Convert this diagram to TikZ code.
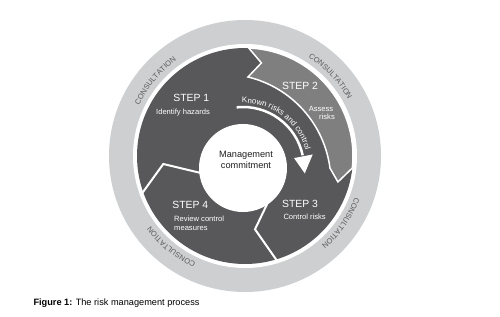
\documentclass[tikz,border=0pt]{standalone}
\usepackage{fontspec}
\setmainfont{Liberation Sans}
\usetikzlibrary{calc,decorations.text}
\definecolor{darkseg}{HTML}{58585A}
\definecolor{lightseg}{HTML}{7F7F7F}
\definecolor{ringgray}{HTML}{CDCFD1}
\definecolor{constext}{HTML}{5A5A5A}
\newcommand\consfont{\fontsize{7.5}{9}\selectfont}
\newcommand\knownfont{\fontsize{8}{9}\selectfont}
\begin{document}
\begin{tikzpicture}[x=1pt,y=1pt,
  steptitle/.style={text=white,font=\fontsize{10.4}{12}\selectfont,inner sep=0pt},
  stepdesc/.style={text=white,font=\fontsize{7.6}{9}\selectfont,inner sep=0pt},
  sepline/.style={white,line width=2pt,line join=miter},
  constextstyle/.style={decorate,decoration={text along path,text={|\consfont|CONSULTATION},text align=center,text color=constext}}]
\fill[white] (0,0) rectangle (500,316);
\useasboundingbox (0,0) rectangle (500,316);
\coordinate (O) at (245,160);
\coordinate (W) at (243,148);
\coordinate (I) at (222.7,133.8);
% ring
\fill[ringgray] (O) circle[radius=136pt];
\fill[white] (O) circle[radius=112pt];
\fill[darkseg] (O) circle[radius=108pt];
% step 2 band
\filldraw[fill=lightseg,draw=white,line width=1.5pt,line join=miter]
  ($(O)+(88:108)$) arc[start angle=88,end angle=-6.4,radius=108pt]
  -- ($(O)+(-15.6:96.5)$) -- ($(I)+(7.5:108.2)$)
  arc[start angle=7.5,end angle=76.5,radius=108.2pt]
  -- ($(O)+(80:94.5)$) -- cycle;
% separators
\draw[sepline] ($(O)+(-72.6:112)$) -- (255,86.7) -- (270,118);
\draw[sepline] ($(O)+(200.8:112)$) -- (163.3,152) -- (205,142);
% centre circle
\fill[white] (W) circle[radius=44pt];
% known risks arrow
\draw[white,line width=2.5pt] ($(W)+(96:61)$) arc[start angle=96,end angle=12,radius=61pt];
\fill[white] ($(W)+(11:52)$) -- ($(W)+(11:71)$) -- ($(W)+(-5:62)$) -- cycle;
\path[decorate,decoration={text along path,text={|\knownfont|Known risks and control},text align=center,text color=white}]
  ($(W)+(100:65)$) arc[start angle=100,end angle=7,radius=65pt];
% consultation texts
\path[constextstyle] ($(O)+(180:117.5)$) arc[start angle=180,end angle=100,radius=117.5pt];
\path[constextstyle] ($(O)+(83:117.5)$) arc[start angle=83,end angle=3,radius=117.5pt];
\path[constextstyle] ($(O)+(5:117.5)$) arc[start angle=5,end angle=-75,radius=117.5pt];
\path[constextstyle] ($(O)+(-89:117.5)$) arc[start angle=-89,end angle=-169,radius=117.5pt];
% step texts
\node[steptitle,anchor=base] (s1) at (191.3,214.3) {STEP 1};
\node[stepdesc,anchor=base] (d1) at (183,201) {Identify hazards};
\node[steptitle,anchor=base] (s2) at (300,226) {STEP 2};
\node[stepdesc,anchor=base] (d2a) at (321,204.3) {Assess};
\node[stepdesc,anchor=base] (d2b) at (327,196) {risks};
\node[steptitle,anchor=base] (s3) at (300,108.3) {STEP 3};
\node[stepdesc,anchor=base west] (d3) at (283.3,96.7) {Control risks};
\node[steptitle,anchor=base] (s4) at (190.3,107.7) {STEP 4};
\node[stepdesc,anchor=base west] (d4a) at (174,94.3) {Review control};
\node[stepdesc,anchor=base west] (d4b) at (174,86) {measures};
\node[anchor=base,inner sep=0pt,text=black!88,font=\fontsize{9.2}{11}\selectfont] (m1) at (246,158.7) {Management};
\node[anchor=base,inner sep=0pt,text=black!88,font=\fontsize{9.2}{11}\selectfont] (m2) at (246,147.7) {commitment};
% caption
\node[anchor=base west,inner sep=0pt,font=\fontsize{9.2}{11}\selectfont] (cap) at (33.3,10.3) {\textbf{Figure 1:} The risk management process};
\end{tikzpicture}
\end{document}
